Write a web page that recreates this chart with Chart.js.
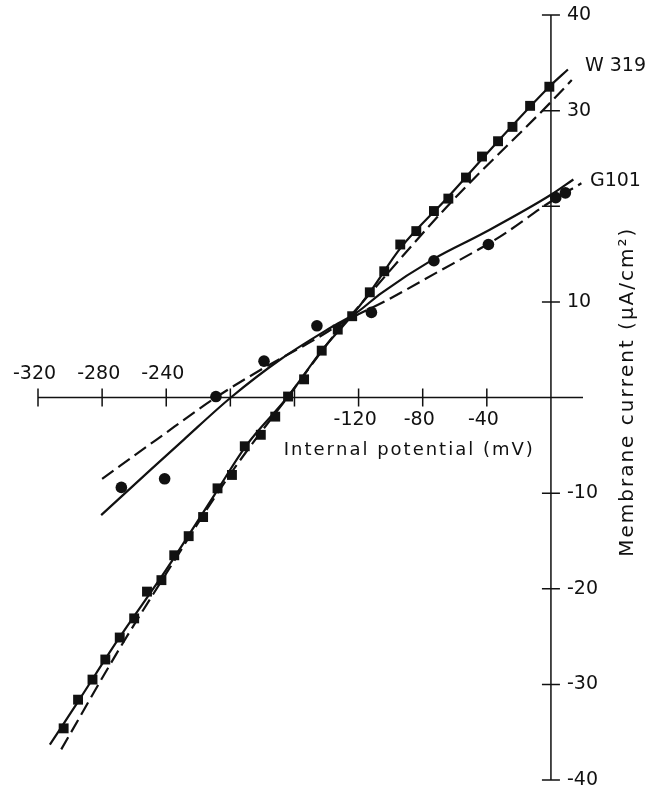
<!DOCTYPE html>
<html>
<head>
<meta charset="utf-8">
<script src="https://cdn.jsdelivr.net/npm/chart.js@4.4.0/dist/chart.umd.min.js"></script>
<style>
  body { margin: 0; background: #fff; }
  canvas { display: block; }
</style>
</head>
<body>
<canvas id="ivChart" width="647" height="788"></canvas>
<script>
// W319 measured points (squares)
const w319Mv = [-304, -295, -286, -278, -269, -260, -252, -243, -235, -226, -217, -208, -199, -191, -181, -172, -164,
                -154, -143, -133, -124, -113, -104, -94, -84, -73, -64, -53, -43, -33, -24, -13, -1];
const w319Cur = [-34.6, -31.6, -29.5, -27.4, -25.1, -23.1, -20.3, -19.1, -16.5, -14.5, -12.5, -9.5, -8.1, -5.1, -3.9, -2.0, 0.1,
                 1.9, 4.9, 7.1, 8.5, 11.0, 13.2, 16.0, 17.4, 19.5, 20.8, 23.0, 25.2, 26.8, 28.3, 30.5, 32.5];

// G101 measured points (circles)
const g101Mv = [-268, -241, -209, -179, -146, -112, -73, -39, 3, 9];
const g101Cur = [-9.4, -8.5, 0.1, 3.8, 7.5, 8.9, 14.3, 16.0, 20.9, 21.4];

// solid curves
const w319SolidMv = [-312.6, -295, -270, -240, -210, -190, -164, -143, -124, -113, -94, -64, -33, -1, 10.6];
const w319SolidCur = [-36.3, -31.8, -25.3, -18.0, -10.2, -5.0, 0.1, 4.9, 8.6, 11.0, 15.6, 21.0, 26.8, 32.5, 34.3];
const g101SolidMv = [-280.6, -250, -229, -199.7, -168.6, -137.5, -121, -106, -73, -42, 0, 14];
const g101SolidCur = [-12.3, -7.6, -4.4, 0, 4.0, 7.3, 8.9, 10.9, 14.5, 17.2, 21.2, 22.8];

// dashed curves
const w319DashMv = [-305.5, -270, -240, -200, -164, -133, -120, -63, 0, 13];
const w319DashCur = [-36.8, -26.5, -18.4, -8.0, 0.1, 7.0, 9.5, 20.3, 30.9, 33.2];
const g101DashMv = [-280, -246, -210, -181, -148, -127, -102, -73, -32, 0, 19];
const g101DashCur = [-8.5, -4.4, -0.1, 2.9, 6.0, 8.1, 10.2, 12.9, 16.8, 20.5, 22.4];

// axis ticks
const xTickMarks = [-320, -280, -240, -200, -160, -120, -80, -40];
const xTopLabels = [-320, -280, -240];
const xBottomLabels = [-120, -80, -40];
const yTickMarks = [40, 30, 20, 10, -10, -20, -30, -40];
const yTickLabels = [40, 30, 10, -10, -20, -30, -40];

const ink = '#111';
const fontFamily = '"DejaVu Sans", sans-serif';

function pts(xs, ys) {
  return xs.map((x, i) => ({ x: x, y: ys[i] }));
}

function spacedText(ctx, text, x, y, spacing) {
  // draws text centered on x with extra letter spacing
  const chars = Array.from(text);
  let total = 0;
  chars.forEach(c => total += ctx.measureText(c).width);
  total += spacing * (chars.length - 1);
  let cx = x - total / 2;
  ctx.textAlign = 'left';
  chars.forEach(c => {
    ctx.fillText(c, cx, y);
    cx += ctx.measureText(c).width + spacing;
  });
}

const crossAxes = {
  id: 'crossAxes',
  beforeDatasetsDraw(chart) {
    const ctx = chart.ctx;
    const xs = chart.scales.x, ys = chart.scales.y;
    const x0 = xs.getPixelForValue(0), y0 = ys.getPixelForValue(0);
    ctx.save();
    ctx.strokeStyle = ink;
    ctx.lineWidth = 1.5;
    ctx.beginPath();
    ctx.moveTo(xs.getPixelForValue(-320), y0);
    ctx.lineTo(xs.getPixelForValue(20), y0);
    ctx.moveTo(x0, ys.getPixelForValue(40));
    ctx.lineTo(x0, ys.getPixelForValue(-40));
    xTickMarks.forEach(v => {
      const px = xs.getPixelForValue(v);
      ctx.moveTo(px, y0 - 9);
      ctx.lineTo(px, y0 + 9);
    });
    yTickMarks.forEach(v => {
      const py = ys.getPixelForValue(v);
      ctx.moveTo(x0 - 9, py);
      ctx.lineTo(x0 + 9, py);
    });
    ctx.stroke();

    ctx.fillStyle = ink;
    ctx.font = '19px ' + fontFamily;
    ctx.textBaseline = 'middle';
    ctx.textAlign = 'right';
    xTopLabels.forEach(v => {
      const w = ctx.measureText(String(Math.abs(v))).width;
      ctx.fillText(String(v), xs.getPixelForValue(v) + w / 2, y0 - 23);
    });
    xBottomLabels.forEach(v => {
      const w = ctx.measureText(String(Math.abs(v))).width;
      ctx.fillText(String(v), xs.getPixelForValue(v) + w / 2, y0 + 23);
    });
    ctx.textAlign = 'left';
    yTickLabels.forEach(v => {
      ctx.fillText(String(v), x0 + 16, ys.getPixelForValue(v));
    });

    // series names
    ctx.fillText('W 319', x0 + 34, ys.getPixelForValue(34.7));
    ctx.fillText('G101', x0 + 39, ys.getPixelForValue(22.6));

    // axis titles
    ctx.font = '18px ' + fontFamily;
    ctx.textBaseline = 'middle';
    spacedText(ctx, 'Internal potential (mV)', xs.getPixelForValue(-89), y0 + 53, 2);

    ctx.save();
    ctx.translate(x0 + 82, ys.getPixelForValue(0.5));
    ctx.rotate(-Math.PI / 2);
    ctx.font = '20px ' + fontFamily;
    ctx.textBaseline = 'alphabetic';
    spacedText(ctx, 'Membrane current (\u03bcA/cm\u00b2)', 0, 0, 2);
    ctx.restore();
    ctx.restore();
  }
};

const ctx = document.getElementById('ivChart').getContext('2d');
new Chart(ctx, {
  type: 'scatter',
  data: {
    datasets: [
      {
        label: 'W319',
        data: pts(w319Mv, w319Cur),
        pointStyle: 'rect',
        pointRadius: 7,
        backgroundColor: ink,
        borderWidth: 0
      },
      {
        label: 'G101',
        data: pts(g101Mv, g101Cur),
        pointStyle: 'circle',
        pointRadius: 5.8,
        backgroundColor: ink,
        borderWidth: 0
      },
      {
        label: 'W319 solid',
        data: pts(w319SolidMv, w319SolidCur),
        showLine: true,
        borderColor: ink,
        borderWidth: 2.2,
        pointRadius: 0,
        cubicInterpolationMode: 'monotone'
      },
      {
        label: 'G101 solid',
        data: pts(g101SolidMv, g101SolidCur),
        showLine: true,
        borderColor: ink,
        borderWidth: 2.2,
        pointRadius: 0,
        cubicInterpolationMode: 'monotone'
      },
      {
        label: 'W319 dashed',
        data: pts(w319DashMv, w319DashCur),
        showLine: true,
        borderColor: ink,
        borderWidth: 2.2,
        borderDash: [14, 6],
        pointRadius: 0,
        cubicInterpolationMode: 'monotone'
      },
      {
        label: 'G101 dashed',
        data: pts(g101DashMv, g101DashCur),
        showLine: true,
        borderColor: ink,
        borderWidth: 2.2,
        borderDash: [14, 6],
        pointRadius: 0,
        cubicInterpolationMode: 'monotone'
      }
    ]
  },
  options: {
    responsive: false,
    animation: false,
    layout: { padding: { left: 38, right: 64, top: 15, bottom: 8 } },
    scales: {
      x: { type: 'linear', min: -320, max: 20, display: false },
      y: { type: 'linear', min: -40, max: 40, display: false }
    },
    plugins: {
      legend: { display: false },
      tooltip: { enabled: false }
    }
  },
  plugins: [crossAxes]
});
</script>
</body>
</html>
